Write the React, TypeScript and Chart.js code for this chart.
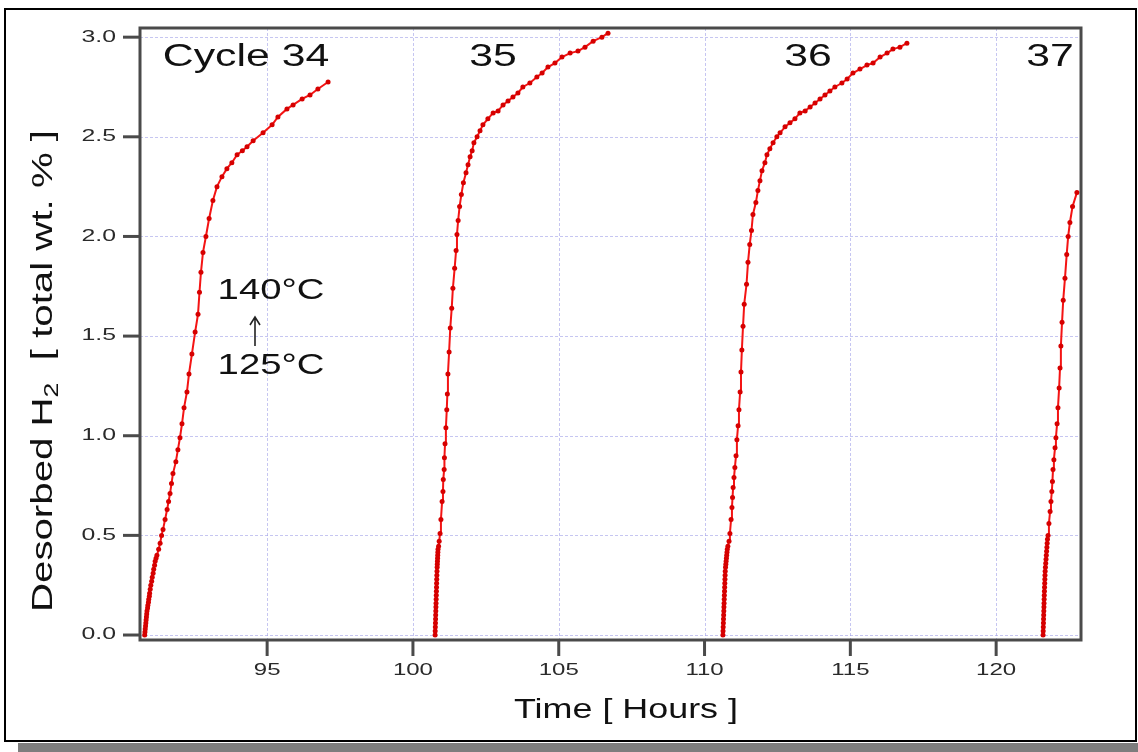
import React, { useEffect, useRef } from "react";
import { Chart, registerables } from "chart.js";

Chart.register(...registerables);

// ---- Data ----
const cycle34Time = [
  90.8, 90.81, 90.82, 90.83, 90.84, 90.85, 90.86, 90.87, 90.88, 90.9, 90.91, 90.93, 90.94, 90.96,
  90.97, 90.99, 91.01, 91.04, 91.06, 91.09, 91.11, 91.14, 91.16, 91.19, 91.22, 91.28,
  91.33, 91.38, 91.43, 91.5, 91.57, 91.62, 91.67, 91.72, 91.77, 91.87, 91.94, 92.01, 92.08, 92.15,
  92.25, 92.32, 92.42, 92.53, 92.63, 92.68, 92.73, 92.8, 92.9, 93.01, 93.14, 93.28, 93.45, 93.62,
  93.79, 93.97, 94.15, 94.31, 94.52, 94.86, 95.17, 95.37, 95.68, 95.89, 96.2, 96.47, 96.74, 97.09,
];
const cycle34H2 = [
  0.0, 0.015, 0.03, 0.045, 0.06, 0.075, 0.09, 0.105, 0.12, 0.135, 0.15, 0.165, 0.18, 0.195,
  0.21, 0.23, 0.25, 0.27, 0.29, 0.31, 0.33, 0.35, 0.37, 0.385, 0.4, 0.43,
  0.46, 0.5, 0.53, 0.58, 0.63, 0.67, 0.71, 0.76, 0.81, 0.87, 0.93, 0.99, 1.06, 1.14,
  1.22, 1.31, 1.41, 1.52, 1.61, 1.72, 1.82, 1.92, 2.0, 2.09, 2.18, 2.25, 2.3, 2.34,
  2.37, 2.41, 2.43, 2.45, 2.48, 2.52, 2.56, 2.6, 2.64, 2.66, 2.69, 2.71, 2.74, 2.775,
];

const cycle35Time = [
  100.76, 100.764, 100.768, 100.772, 100.776, 100.78, 100.784, 100.788, 100.792, 100.796, 100.8,
  100.804, 100.808, 100.812, 100.816, 100.82, 100.825, 100.83, 100.835, 100.84, 100.845, 100.85,
  100.855, 100.86, 100.88, 100.9,
  100.93, 100.96, 101.0, 101.03, 101.04, 101.07, 101.08, 101.1, 101.13, 101.16, 101.18, 101.2,
  101.24, 101.28, 101.33, 101.37, 101.43, 101.48, 101.51, 101.55, 101.6, 101.66, 101.73, 101.82,
  101.89, 101.96, 102.03, 102.09, 102.2, 102.3, 102.4, 102.57, 102.75, 102.92, 103.09, 103.26,
  103.43, 103.6, 103.77, 104.01, 104.25, 104.43, 104.63, 104.87, 105.11, 105.39, 105.66, 105.9,
  106.18, 106.48, 106.69,
];
const cycle35H2 = [
  0.0, 0.02, 0.04, 0.06, 0.08, 0.1, 0.12, 0.14, 0.16, 0.18, 0.2,
  0.22, 0.24, 0.26, 0.28, 0.3, 0.32, 0.34, 0.355, 0.37, 0.385, 0.4,
  0.415, 0.43, 0.445, 0.47,
  0.51, 0.58, 0.67, 0.72, 0.78, 0.83, 0.89, 0.96, 1.04, 1.13, 1.21, 1.31,
  1.42, 1.54, 1.64, 1.74, 1.84, 1.93, 2.01, 2.08, 2.15, 2.21, 2.27, 2.32,
  2.36, 2.4, 2.43, 2.47, 2.5, 2.53, 2.56, 2.59, 2.62, 2.63, 2.66, 2.68,
  2.7, 2.72, 2.75, 2.77, 2.8, 2.82, 2.85, 2.87, 2.9, 2.92, 2.93, 2.95,
  2.98, 3.0, 3.02,
];

const cycle36Time = [
  110.63, 110.635, 110.64, 110.645, 110.65, 110.655, 110.66, 110.665, 110.67, 110.675, 110.68,
  110.685, 110.69, 110.695, 110.7, 110.705, 110.71, 110.72, 110.73, 110.74, 110.75, 110.76,
  110.77, 110.78, 110.8, 110.84,
  110.87, 110.91, 110.94, 110.96, 110.98, 111.01, 111.04, 111.08, 111.11, 111.15, 111.18, 111.22,
  111.25, 111.28, 111.32, 111.36, 111.44, 111.49, 111.55, 111.61, 111.66, 111.76, 111.83, 111.9,
  111.97, 112.07, 112.14, 112.24, 112.35, 112.48, 112.59, 112.76, 112.93, 113.1, 113.27, 113.45,
  113.62, 113.79, 113.96, 114.13, 114.3, 114.47, 114.71, 114.89, 115.09, 115.33, 115.57, 115.78,
  116.02, 116.26, 116.46, 116.7, 116.94,
];
const cycle36H2 = [
  0.0, 0.02, 0.04, 0.06, 0.08, 0.1, 0.12, 0.14, 0.16, 0.18, 0.2,
  0.22, 0.24, 0.26, 0.28, 0.3, 0.32, 0.34, 0.355, 0.37, 0.385, 0.4,
  0.415, 0.43, 0.445, 0.47,
  0.51, 0.58, 0.64, 0.69, 0.74, 0.79, 0.84, 0.9, 0.98, 1.05, 1.13, 1.22,
  1.32, 1.43, 1.55, 1.66, 1.76, 1.87, 1.96, 2.03, 2.11, 2.17, 2.23, 2.28,
  2.33, 2.37, 2.41, 2.44, 2.47, 2.5, 2.52, 2.55, 2.57, 2.59, 2.62, 2.63,
  2.65, 2.67, 2.69, 2.71, 2.73, 2.75, 2.77, 2.79, 2.82, 2.84, 2.86, 2.87,
  2.9, 2.92, 2.94, 2.95, 2.97,
];

const cycle37Time = [
  121.61, 121.614, 121.618, 121.622, 121.626, 121.63, 121.634, 121.638, 121.642, 121.646, 121.65,
  121.655, 121.66, 121.665, 121.67, 121.675, 121.68, 121.69, 121.7, 121.71, 121.72, 121.73,
  121.74, 121.75, 121.76,
  121.78, 121.81, 121.85, 121.88, 121.91, 121.93, 121.95, 121.98, 122.02, 122.05, 122.09, 122.12,
  122.16, 122.19, 122.22, 122.26, 122.3, 122.36, 122.42, 122.47, 122.53, 122.62, 122.77,
];
const cycle37H2 = [
  0.0, 0.02, 0.04, 0.06, 0.08, 0.1, 0.12, 0.14, 0.16, 0.18, 0.2,
  0.22, 0.24, 0.26, 0.28, 0.3, 0.32, 0.34, 0.36, 0.38, 0.4, 0.42,
  0.44, 0.46, 0.48,
  0.5, 0.56, 0.62, 0.67, 0.72, 0.77, 0.83, 0.88, 0.94, 0.99, 1.06, 1.14,
  1.24, 1.34, 1.45, 1.57, 1.68, 1.79, 1.91, 2.0, 2.07, 2.15, 2.22,
];

const xTickValues = [95, 100, 105, 110, 115, 120];
const xTickLabels = ["95", "100", "105", "110", "115", "120"];
const yTickValues = [0, 0.5, 1.0, 1.5, 2.0, 2.5, 3.0];
const yTickLabels = ["0.0", "0.5", "1.0", "1.5", "2.0", "2.5", "3.0"];
const cycleLabels = ["Cycle 34", "35", "36", "37"];
const tempLabels = ["140°C", "125°C"];
const xTitle = "Time [ Hours ]";
const yTitleParts = ["Desorbed H", "2", "  [ total wt. % ]"];

const X_MIN = 90.64;
const X_MAX = 122.91;
const Y_MIN = -0.025;
const Y_MAX = 3.046;

const FONT = '"Liberation Sans", Arial, Helvetica, sans-serif';
const W = 1138;
const H = 752;

function drawStretched(
  ctx: CanvasRenderingContext2D,
  text: string,
  x: number,
  y: number,
  size: number,
  sx: number,
  align: CanvasTextAlign,
  color: string
) {
  ctx.save();
  ctx.translate(x, y);
  ctx.scale(sx, 1);
  ctx.font = `${size}px ${FONT}`;
  ctx.fillStyle = color;
  ctx.textAlign = align;
  ctx.textBaseline = "middle";
  ctx.fillText(text, 0, 0);
  ctx.restore();
}

const decorPlugin = {
  id: "decor",
  beforeDraw(chart: any) {
    const ctx: CanvasRenderingContext2D = chart.ctx;
    ctx.save();
    ctx.fillStyle = "#ffffff";
    ctx.fillRect(0, 0, W, H);
    // drop shadow band
    ctx.fillStyle = "#7d7d7d";
    ctx.fillRect(18, 743, W - 18, H - 743);
    // outer frame
    ctx.strokeStyle = "#000000";
    ctx.lineWidth = 2;
    ctx.strokeRect(5, 9, 1131, 732);
    ctx.restore();
  },
  beforeDatasetsDraw(chart: any) {
    const ctx: CanvasRenderingContext2D = chart.ctx;
    const { left, right, top, bottom } = chart.chartArea;
    const xs = chart.scales.x;
    const ys = chart.scales.y;
    ctx.save();
    ctx.strokeStyle = "rgba(160,160,232,0.6)";
    ctx.lineWidth = 1;
    ctx.setLineDash([3, 2]);
    xTickValues.forEach((v) => {
      const px = Math.round(xs.getPixelForValue(v)) + 0.5;
      ctx.beginPath();
      ctx.moveTo(px, top);
      ctx.lineTo(px, bottom);
      ctx.stroke();
    });
    yTickValues.forEach((v) => {
      const py = Math.round(ys.getPixelForValue(v)) + 0.5;
      ctx.beginPath();
      ctx.moveTo(left, py);
      ctx.lineTo(right, py);
      ctx.stroke();
    });
    ctx.restore();
  },
  afterDatasetsDraw(chart: any) {
    const ctx: CanvasRenderingContext2D = chart.ctx;
    const { left, right, top, bottom } = chart.chartArea;
    const xs = chart.scales.x;
    const ys = chart.scales.y;
    ctx.save();
    // plot box
    ctx.strokeStyle = "#4a4a4a";
    ctx.lineWidth = 3;
    ctx.strokeRect(left, top, right - left, bottom - top);
    // ticks
    xTickValues.forEach((v) => {
      const px = xs.getPixelForValue(v);
      ctx.beginPath();
      ctx.moveTo(px, bottom);
      ctx.lineTo(px, bottom + 16);
      ctx.stroke();
    });
    yTickValues.forEach((v) => {
      const py = ys.getPixelForValue(v);
      ctx.beginPath();
      ctx.moveTo(left, py);
      ctx.lineTo(left - 17, py);
      ctx.stroke();
    });
    ctx.restore();

    // tick labels
    xTickValues.forEach((v, i) => {
      drawStretched(ctx, xTickLabels[i], xs.getPixelForValue(v), 671, 16, 1.5, "center", "#2a2a2a");
    });
    yTickValues.forEach((v, i) => {
      drawStretched(ctx, yTickLabels[i], 116, ys.getPixelForValue(v), 16, 1.55, "right", "#2a2a2a");
    });

    // cycle labels
    const cyclePos = [
      [246, 57],
      [493, 57],
      [808, 57],
      [1050, 57],
    ];
    cycleLabels.forEach((t, i) => {
      drawStretched(ctx, t, cyclePos[i][0], cyclePos[i][1], 31, 1.38, "center", "#111111");
    });

    // temperature annotation
    drawStretched(ctx, tempLabels[0], 271, 291, 29, 1.32, "center", "#111111");
    drawStretched(ctx, tempLabels[1], 271, 366, 29, 1.32, "center", "#111111");
    ctx.save();
    ctx.strokeStyle = "#222222";
    ctx.lineWidth = 1.6;
    ctx.beginPath();
    ctx.moveTo(255, 346);
    ctx.lineTo(255, 317);
    ctx.moveTo(250, 325);
    ctx.lineTo(255, 317);
    ctx.lineTo(260, 325);
    ctx.stroke();
    ctx.restore();

    // x title
    ctx.save();
    ctx.font = `27px ${FONT}`;
    const xw = ctx.measureText(xTitle).width;
    ctx.restore();
    drawStretched(ctx, xTitle, 626, 711, 27, 224 / xw, "center", "#111111");

    // y title (rotated, with subscript)
    ctx.save();
    const mainSize = 30;
    const subSize = 20;
    ctx.font = `${mainSize}px ${FONT}`;
    const w0 = ctx.measureText(yTitleParts[0]).width;
    const w2 = ctx.measureText(yTitleParts[2]).width;
    ctx.font = `${subSize}px ${FONT}`;
    const w1 = ctx.measureText(yTitleParts[1]).width;
    const total = w0 + w1 + w2;
    const sx = 482 / total;
    ctx.translate(44, 371);
    ctx.rotate(-Math.PI / 2);
    ctx.scale(sx, 1);
    ctx.fillStyle = "#111111";
    ctx.textAlign = "left";
    ctx.textBaseline = "middle";
    let cx = -total / 2;
    ctx.font = `${mainSize}px ${FONT}`;
    ctx.fillText(yTitleParts[0], cx, 0);
    cx += w0;
    ctx.font = `${subSize}px ${FONT}`;
    ctx.fillText(yTitleParts[1], cx, 8);
    cx += w1;
    ctx.font = `${mainSize}px ${FONT}`;
    ctx.fillText(yTitleParts[2], cx, 0);
    ctx.restore();
  },
};

function series(t: number[], v: number[]) {
  return t.map((x, i) => ({ x, y: v[i] }));
}

export default function App() {
  const ref = useRef<HTMLCanvasElement | null>(null);

  useEffect(() => {
    document.body.style.margin = "0";
    if (!ref.current) return;
    const mk = (label: string, t: number[], v: number[]) => ({
      label,
      data: series(t, v),
      showLine: true,
      borderColor: "#f41414",
      borderWidth: 2,
      pointRadius: 2.5,
      pointBackgroundColor: "#d60000",
      pointBorderColor: "#d60000",
      pointBorderWidth: 0,
      tension: 0,
    });
    const chart = new Chart(ref.current, {
      type: "scatter",
      data: {
        datasets: [
          mk("Cycle 34", cycle34Time, cycle34H2),
          mk("Cycle 35", cycle35Time, cycle35H2),
          mk("Cycle 36", cycle36Time, cycle36H2),
          mk("Cycle 37", cycle37Time, cycle37H2),
        ],
      },
      options: {
        responsive: false,
        animation: false,
        devicePixelRatio: 1,
        layout: { padding: { left: 0, top: 28, right: 57, bottom: 0 } },
        plugins: {
          legend: { display: false },
          tooltip: { enabled: false },
          title: { display: false },
        },
        scales: {
          x: {
            type: "linear",
            min: X_MIN,
            max: X_MAX,
            grid: { display: false },
            border: { display: false },
            ticks: { display: false },
            afterBuildTicks: (s: any) => {
              s.ticks = xTickValues.map((v) => ({ value: v }));
            },
            afterFit: (s: any) => {
              s.height = 112;
            },
          },
          y: {
            type: "linear",
            min: Y_MIN,
            max: Y_MAX,
            grid: { display: false },
            border: { display: false },
            ticks: { display: false },
            afterBuildTicks: (s: any) => {
              s.ticks = yTickValues.map((v) => ({ value: v }));
            },
            afterFit: (s: any) => {
              s.width = 140;
            },
          },
        },
      } as any,
      plugins: [decorPlugin],
    });
    return () => chart.destroy();
  }, []);

  return (
    <canvas
      ref={ref}
      width={W}
      height={H}
      style={{ display: "block", position: "absolute", left: 0, top: 0 }}
    />
  );
}
